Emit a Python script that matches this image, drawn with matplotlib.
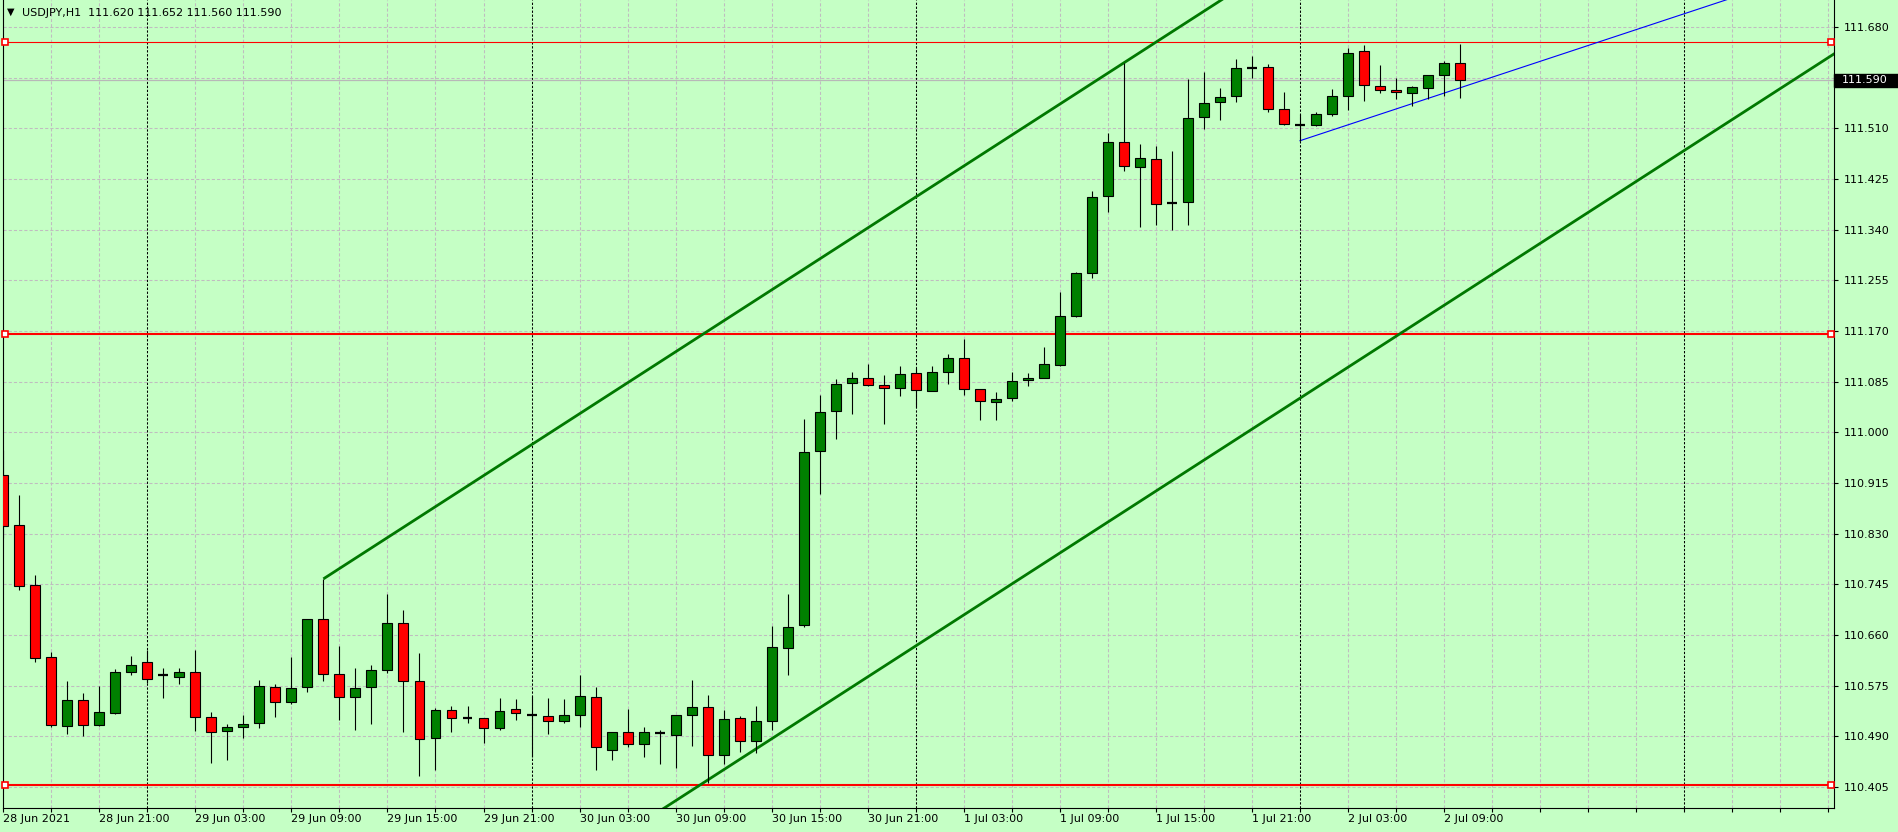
import matplotlib
matplotlib.use('Agg')
import matplotlib.pyplot as plt
import matplotlib.transforms as mtransforms
from matplotlib.patches import Rectangle
import numpy as np
import pandas as pd

bg = '#c5ffc5'
bull = '#008000'
bear = '#ff0000'
gridc = '#c0bcc0'

symbol = 'USDJPY,H1'
first_bar = '2021-06-28 15:00'

opens = [110.929, 110.844, 110.744, 110.623, 110.507, 110.551, 110.509, 110.529, 110.598, 110.615,
         110.592, 110.590, 110.598, 110.523, 110.499, 110.506, 110.512, 110.573, 110.548, 110.573,
         110.687, 110.595, 110.556, 110.573, 110.601, 110.680, 110.583, 110.487, 110.534, 110.521,
         110.521, 110.504, 110.536, 110.525, 110.524, 110.516, 110.526, 110.556, 110.467, 110.497,
         110.477, 110.495, 110.492, 110.526, 110.539, 110.459, 110.521, 110.482, 110.516, 110.638,
         110.677, 110.968, 111.035, 111.082, 111.091, 111.079, 111.074, 111.099, 111.069, 111.101,
         111.124, 111.072, 111.051, 111.057, 111.087, 111.091, 111.113, 111.195, 111.267, 111.396,
         111.486, 111.445, 111.458, 111.384, 111.386, 111.528, 111.554, 111.564, 111.611, 111.612,
         111.543, 111.515, 111.515, 111.533, 111.564, 111.639, 111.580, 111.574, 111.569, 111.577,
         111.599, 111.620]
highs = [110.971, 110.894, 110.761, 110.632, 110.582, 110.563, 110.574, 110.602, 110.625, 110.635,
         110.605, 110.605, 110.635, 110.531, 110.511, 110.526, 110.585, 110.578, 110.623, 110.687,
         110.754, 110.642, 110.605, 110.610, 110.729, 110.701, 110.630, 110.538, 110.541, 110.541,
         110.521, 110.555, 110.553, 110.558, 110.555, 110.553, 110.592, 110.572, 110.497, 110.536,
         110.505, 110.501, 110.526, 110.585, 110.560, 110.534, 110.524, 110.540, 110.675, 110.728,
         111.022, 111.063, 111.090, 111.101, 111.115, 111.096, 111.111, 111.108, 111.111, 111.132,
         111.157, 111.072, 111.068, 111.101, 111.100, 111.143, 111.235, 111.269, 111.404, 111.502,
         111.619, 111.483, 111.480, 111.471, 111.592, 111.604, 111.577, 111.626, 111.631, 111.617,
         111.570, 111.533, 111.537, 111.575, 111.644, 111.649, 111.616, 111.595, 111.580, 111.600,
         111.622, 111.652]
lows = [110.823, 110.735, 110.614, 110.505, 110.493, 110.490, 110.508, 110.528, 110.592, 110.580,
        110.555, 110.577, 110.498, 110.445, 110.451, 110.487, 110.504, 110.523, 110.544, 110.564,
        110.582, 110.518, 110.501, 110.510, 110.596, 110.497, 110.423, 110.434, 110.497, 110.512,
        110.478, 110.500, 110.518, 110.456, 110.493, 110.513, 110.505, 110.434, 110.450, 110.472,
        110.455, 110.443, 110.436, 110.473, 110.411, 110.443, 110.464, 110.462, 110.501, 110.593,
        110.674, 110.897, 110.988, 111.031, 111.077, 111.013, 111.060, 111.043, 111.069, 111.081,
        111.063, 111.020, 111.020, 111.052, 111.078, 111.091, 111.111, 111.193, 111.259, 111.370,
        111.438, 111.345, 111.348, 111.340, 111.347, 111.508, 111.523, 111.554, 111.595, 111.537,
        111.515, 111.489, 111.513, 111.531, 111.541, 111.555, 111.569, 111.559, 111.547, 111.559,
        111.564, 111.560]
closes = [110.842, 110.742, 110.621, 110.509, 110.551, 110.509, 110.531, 110.598, 110.610, 110.586,
          110.592, 110.598, 110.523, 110.497, 110.506, 110.511, 110.574, 110.548, 110.571, 110.687,
          110.595, 110.556, 110.571, 110.601, 110.680, 110.583, 110.486, 110.534, 110.521, 110.521,
          110.504, 110.533, 110.529, 110.525, 110.516, 110.526, 110.558, 110.472, 110.497, 110.477,
          110.497, 110.495, 110.526, 110.539, 110.459, 110.519, 110.482, 110.516, 110.640, 110.673,
          110.967, 111.034, 111.081, 111.091, 111.079, 111.074, 111.098, 111.071, 111.101, 111.124,
          111.072, 111.052, 111.056, 111.086, 111.091, 111.114, 111.195, 111.267, 111.394, 111.486,
          111.446, 111.460, 111.383, 111.384, 111.527, 111.552, 111.562, 111.611, 111.611, 111.543,
          111.517, 111.515, 111.533, 111.564, 111.636, 111.582, 111.574, 111.570, 111.579, 111.600,
          111.619, 111.590]

price_ticks = [110.405, 110.490, 110.575, 110.660, 110.745, 110.830, 110.915, 111.000,
               111.085, 111.170, 111.255, 111.340, 111.425, 111.510, 111.595, 111.680]
time_ticks = ['2021-06-28 15:00', '2021-06-28 21:00', '2021-06-29 03:00', '2021-06-29 09:00',
              '2021-06-29 15:00', '2021-06-29 21:00', '2021-06-30 03:00', '2021-06-30 09:00',
              '2021-06-30 15:00', '2021-06-30 21:00', '2021-07-01 03:00', '2021-07-01 09:00',
              '2021-07-01 15:00', '2021-07-01 21:00', '2021-07-02 03:00', '2021-07-02 09:00']
time_labels = ['28 Jun 2021', '28 Jun 21:00', '29 Jun 03:00', '29 Jun 09:00', '29 Jun 15:00',
               '29 Jun 21:00', '30 Jun 03:00', '30 Jun 09:00', '30 Jun 15:00', '30 Jun 21:00',
               '1 Jul 03:00', '1 Jul 09:00', '1 Jul 15:00', '1 Jul 21:00', '2 Jul 03:00', '2 Jul 09:00']

# horizontal levels drawn on the chart
levels = [111.654, 111.164, 110.409]
level_lw = [0.8, 1.5, 1.5]
bid = 111.590

# equidistant channel: two points on the upper line + width
chan_bars = [20, 71]
chan_prices = [110.754, 111.637]
chan_width = 0.753
# blue trend line
trend_bars = [81, 89]
trend_prices = [111.489, 111.560]

W, H = 1898, 832
fig = plt.figure(figsize=(W / 100, H / 100), dpi=100, facecolor=bg)
ax = fig.add_axes([2.7 / W, 24.5 / H, (1834 - 2.7) / W, 807.5 / H], facecolor=bg)

o = np.array(opens)
h = np.array(highs)
l = np.array(lows)
c = np.array(closes)
n = len(o)
x = np.arange(n)

xmin, xmax = -0.031, 114.35
all_times = pd.date_range(first_bar, periods=int(xmax) + 1, freq='h')

# grid
for p in price_ticks:
    ax.axhline(p, color=gridc, lw=0.75, dashes=(3, 2), zorder=0)
for i, t in enumerate(all_times):
    if t.hour % 3 == 0 and t.hour != 0:
        ax.axvline(i, color=gridc, lw=0.75, dashes=(3, 2), zorder=0)
    if t.hour == 0:
        ax.axvline(i, color='black', lw=0.75, dashes=(2.2, 1.6), zorder=1)

# bid line
ax.axhline(bid, color='#b8b8b8', lw=0.9, zorder=1)

# horizontal levels
ymark = ax.get_yaxis_transform()
for lev, lw in zip(levels, level_lw):
    ax.axhline(lev, color='red', lw=lw, zorder=2)
    ax.plot([0.0013, 0.9985], [lev, lev], 's', ms=3.8, mfc='white', mec='red', mew=1.2,
            transform=ymark, clip_on=False, zorder=6)

# channel
slope = (chan_prices[1] - chan_prices[0]) / (chan_bars[1] - chan_bars[0])
cx = np.array([chan_bars[0], xmax + 1])
cy = chan_prices[0] + slope * (cx - chan_bars[0])
ax.plot(cx, cy, color='#007800', lw=2.0, zorder=2, solid_capstyle='butt')
ax.plot(cx, cy - chan_width, color='#007800', lw=2.0, zorder=2, solid_capstyle='butt')

# trend line
tslope = (trend_prices[1] - trend_prices[0]) / (trend_bars[1] - trend_bars[0])
tx = np.array([trend_bars[0], xmax + 1])
ty = trend_prices[0] + tslope * (tx - trend_bars[0])
ax.plot(tx, ty, color='#0000ff', lw=0.8, zorder=2)

# candles
up = c > o
dn = c < o
fl = c == o
bw = 0.62
ax.vlines(x, l, h, color='black', lw=0.8, zorder=3)
ax.bar(x[up], (c - o)[up], bottom=o[up], width=bw, color=bull, edgecolor='black', linewidth=0.8, zorder=4)
ax.bar(x[dn], (o - c)[dn], bottom=c[dn], width=bw, color=bear, edgecolor='black', linewidth=0.8, zorder=4)
ax.hlines(o[fl], x[fl] - bw / 2, x[fl] + bw / 2, color='black', lw=1.6, zorder=4)

ax.set_xlim(xmin, xmax)
ax.set_ylim(110.3705, 111.725)

# axes / ticks
for s in ax.spines.values():
    s.set_color('black')
    s.set_linewidth(0.8)
ax.spines['top'].set_visible(False)

ax.yaxis.tick_right()
ax.set_yticks(price_ticks)
ax.set_yticklabels(['' if abs(p - bid) < 0.02 else f'{p:.3f}' for p in price_ticks])
ax.tick_params(axis='y', direction='out', length=3, width=0.8, pad=4, labelsize=8, colors='black')

tick_pos = [all_times.get_loc(pd.Timestamp(t)) for t in time_ticks]
ax.set_xticks(tick_pos)
ax.set_xticklabels(time_labels, ha='left')
minor = [i for i, t in enumerate(all_times) if t.hour % 3 == 0]
ax.set_xticks(minor, minor=True)
ax.tick_params(axis='x', which='both', direction='out', length=3, width=0.8, pad=2, labelsize=8)

# current price box on the right scale
blend = mtransforms.blended_transform_factory(fig.transFigure, ax.transData)
ax.add_patch(Rectangle((1834 / W, bid - 0.0105), 1 - 1834 / W, 0.021, transform=blend,
                       facecolor='black', edgecolor='black', clip_on=False, zorder=7))
ax.text(1842 / W, bid, f'{bid:.3f}', transform=blend, color='white', fontsize=8,
        va='center', ha='left', zorder=8, clip_on=False)

# header
fig.text(7 / W, 1 - 12 / H, '\u25bc', fontsize=7, va='center', ha='left')
fig.text(21.5 / W, 1 - 12.5 / H,
         f'{symbol}  {opens[-1]:.3f} {highs[-1]:.3f} {lows[-1]:.3f} {closes[-1]:.3f}',
         fontsize=8, va='center', ha='left')

fig.savefig('out.png', dpi=100, facecolor=bg)
